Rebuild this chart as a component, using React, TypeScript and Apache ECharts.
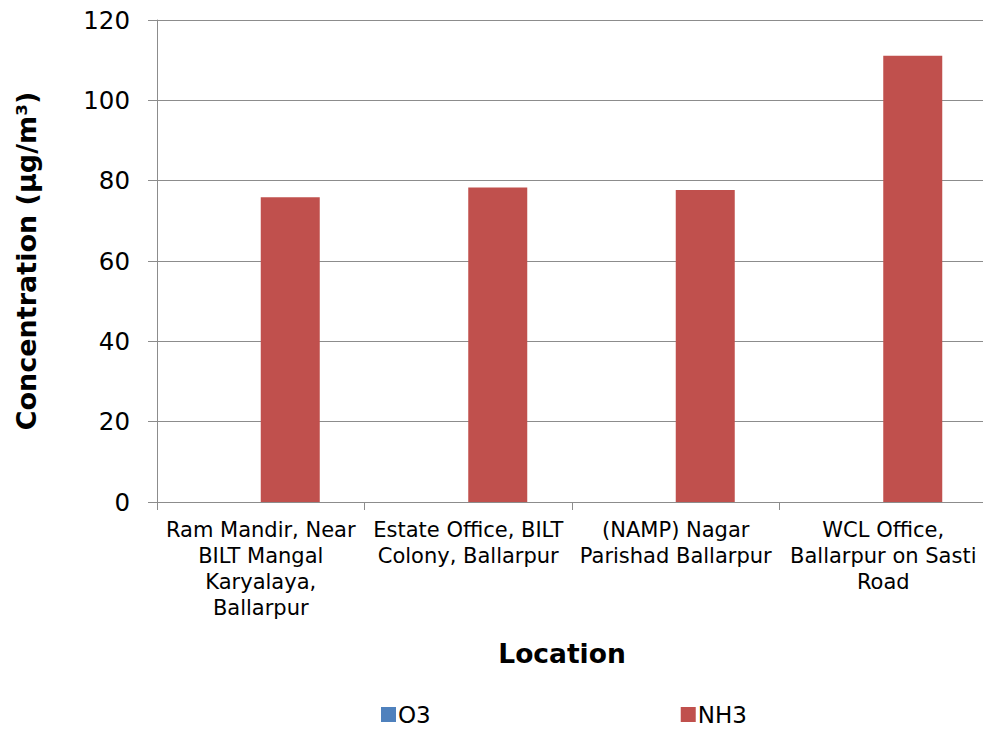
import React, { useEffect, useRef } from "react";
import * as echarts from "echarts";

const locations = [
  "Ram Mandir, Near\nBILT Mangal\nKaryalaya,\nBallarpur",
  "Estate Office, BILT\nColony, Ballarpur",
  "(NAMP) Nagar\nParishad Ballarpur",
  "WCL Office,\nBallarpur on Sasti\nRoad",
];
const o3Values = [0, 0, 0, 0];
const nh3Values = [75.9, 78.3, 77.7, 111.1];
const yTicks = { min: 0, max: 120, interval: 20 };

const FONT = "DejaVu Sans, Verdana, sans-serif";

export default function App() {
  const ref = useRef<HTMLDivElement>(null);

  useEffect(() => {
    if (!ref.current) return;
    const chart = echarts.init(ref.current, undefined, { renderer: "svg" });
    chart.setOption({
      animation: false,
      backgroundColor: "#ffffff",
      textStyle: { fontFamily: FONT, color: "#000" },
      grid: { left: 157, right: 4, top: 20, bottom: 229, containLabel: false },
      legend: {
        left: 381,
        top: 703,
        padding: 0,
        itemWidth: 15,
        itemHeight: 15,
        itemGap: 250,
        icon: "rect",
        textStyle: { fontFamily: FONT, fontSize: 23, color: "#000", padding: [0, 0, 0, -3] },
        data: ["O3", "NH3"],
      },
      xAxis: {
        type: "category",
        data: locations,
        name: "Location",
        nameLocation: "middle",
        nameGap: 138,
        nameTextStyle: {
          fontFamily: FONT,
          fontSize: 26.5,
          fontWeight: "bold",
          color: "#000",
          padding: [0, 20, 0, 0],
        },
        axisLine: { show: true, lineStyle: { color: "#8c8c8c", width: 1 } },
        axisTick: { show: true, length: 8, alignWithLabel: false, lineStyle: { color: "#8c8c8c" } },
        axisLabel: {
          interval: 0,
          margin: 15,
          fontFamily: FONT,
          fontSize: 21,
          lineHeight: 26,
          color: "#000",
          align: "center",
        },
        splitLine: { show: false },
      },
      yAxis: {
        type: "value",
        min: yTicks.min,
        max: yTicks.max,
        interval: yTicks.interval,
        name: "Concentration (µg/m³)",
        nameLocation: "middle",
        nameGap: 117,
        nameTextStyle: {
          fontFamily: FONT,
          fontSize: 27,
          fontWeight: "bold",
          color: "#000",
        },
        axisLine: { show: true, lineStyle: { color: "#8c8c8c", width: 1 } },
        axisTick: { show: true, length: 9, inside: false, lineStyle: { color: "#8c8c8c" } },
        axisLabel: { margin: 27, fontFamily: FONT, fontSize: 24.5, color: "#000" },
        splitLine: { show: true, lineStyle: { color: "#8c8c8c", width: 1 } },
      },
      series: [
        {
          name: "O3",
          type: "bar",
          data: o3Values,
          barWidth: 59,
          barGap: "0%",
          itemStyle: { color: "#4F81BD" },
        },
        {
          name: "NH3",
          type: "bar",
          data: nh3Values,
          barWidth: 59,
          barGap: "0%",
          itemStyle: { color: "#C0504D" },
        },
      ],
    });
    return () => chart.dispose();
  }, []);

  return <div ref={ref} style={{ width: 991, height: 731, margin: -8 }} />;
}
